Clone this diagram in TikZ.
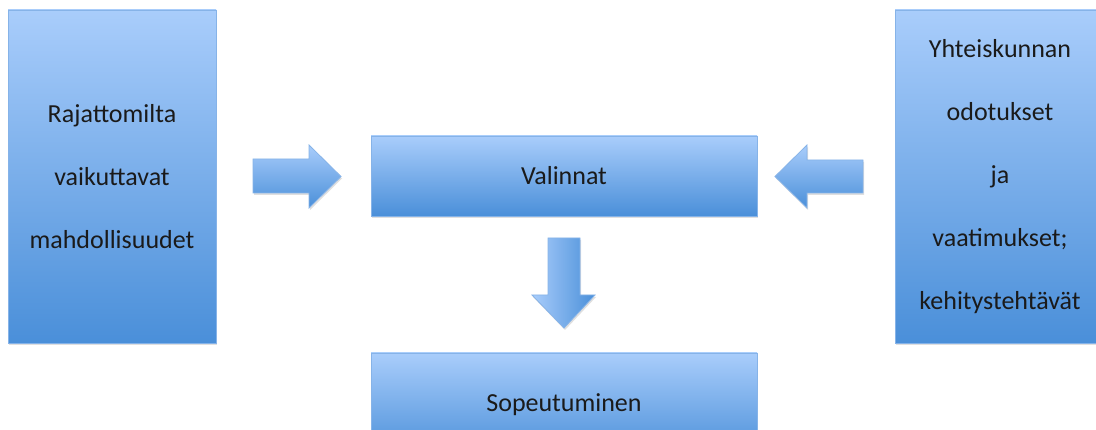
\documentclass[tikz,border=0pt]{standalone}
\usepackage{fontspec}
\setmainfont{Carlito}
\usetikzlibrary{shadows}
\definecolor{boxtop}{HTML}{A9CDFB}
\definecolor{boxbot}{HTML}{4A8FD9}
\definecolor{boxline}{HTML}{86B3E8}
\definecolor{txt}{HTML}{1A1A1A}
\tikzset{
  blk/.style={rectangle, draw=boxline, line width=0.8pt, top color=boxtop, bottom color=boxbot,
    drop shadow={opacity=0.25, shadow xshift=1pt, shadow yshift=-2pt},
    inner sep=0pt, align=center, text=txt, font=\fontsize{26}{63}\selectfont},
  blkarrow/.style={draw=boxline, line width=0.8pt,
    drop shadow={opacity=0.25, shadow xshift=1pt, shadow yshift=-2pt}}
}
\begin{document}
\begin{tikzpicture}[x=1pt,y=-1pt]
\clip (0,0) rectangle (1096,430);
\fill[white] (0,0) rectangle (1096,430);
\node[blk, minimum width=208pt, minimum height=333pt] (left) at (112,176.5)
  {Rajattomilta\\vaikuttavat\\mahdollisuudet};
\node[blk, minimum width=210pt, minimum height=333pt] (right) at (1000,176.5)
  {Yhteiskunnan\\odotukset\\ja\\vaatimukset;\\kehitystehtävät};
\node[blk, minimum width=386pt, minimum height=80pt] (valinnat) at (564,176) {Valinnat};
\node[blk, minimum width=386pt, minimum height=104pt] (sope) at (564,405) {Sopeutuminen};
% block arrows
\path[blkarrow, top color=boxtop, bottom color=boxbot]
  (253,159) -- (309,159) -- (309,145) -- (341,176.5) -- (309,208) -- (309,193) -- (253,193) -- cycle;
\path[blkarrow, top color=boxtop, bottom color=boxbot]
  (863,160) -- (807,160) -- (807,145) -- (775,176.5) -- (807,208) -- (807,193) -- (863,193) -- cycle;
\path[blkarrow, left color=boxtop, right color=boxbot]
  (548,238) -- (580,238) -- (580,295) -- (595,295) -- (564,328) -- (532,295) -- (548,295) -- cycle;
\end{tikzpicture}
\end{document}
